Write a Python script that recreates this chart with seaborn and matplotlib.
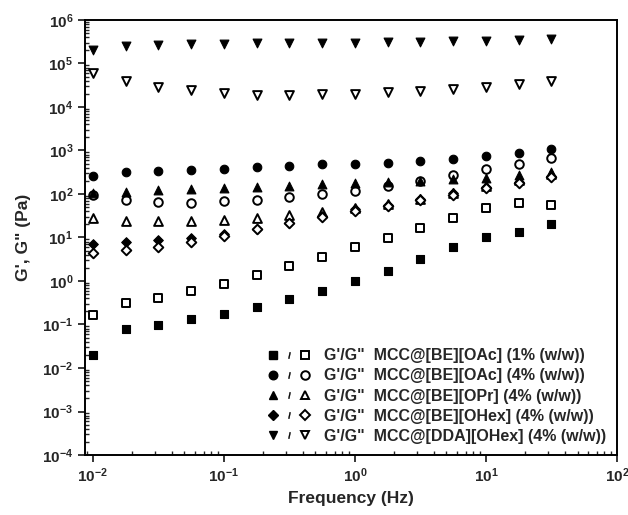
import numpy as np
import pandas as pd
import matplotlib
matplotlib.use("Agg")
import matplotlib.pyplot as plt
import seaborn as sns
from matplotlib.lines import Line2D
from matplotlib.legend_handler import HandlerTuple

# frequency sweep (Hz)
freq = [0.01, 0.0178, 0.0316, 0.0562, 0.1, 0.178, 0.316, 0.562,
        1.0, 1.78, 3.16, 5.62, 10.0, 17.8, 31.6]

# storage (G') / loss (G'') moduli, Pa
gp_be_oac_1 = [0.0196, 0.079, 0.098, 0.132, 0.177, 0.252, 0.386, 0.598,
               1.0, 1.73, 3.16, 5.96, 10.1, 13.6, 20.1]
gpp_be_oac_1 = [0.165, 0.317, 0.413, 0.589, 0.853, 1.35, 2.18, 3.62,
                5.96, 9.9, 16.5, 27.6, 47.6, 63.1, 55.8]
gp_be_oac_4 = [259, 321, 344, 362, 382, 411, 448, 482,
               490, 525, 583, 638, 748, 863, 1066]
gpp_be_oac_4 = [95, 72, 64, 63, 68, 73, 84, 100,
                117, 153, 199, 274, 370, 482, 662]
gp_be_opr_4 = [107, 113, 124, 130, 140, 145, 153, 167,
               182, 189, 202, 218, 233, 274, 321]
gpp_be_opr_4 = [27.6, 23.9, 23.9, 24.3, 25.2, 27.6, 32.4, 39.2,
                47.6, 58.9, 76.7, 105, 153, 210, 288]
gp_be_ohex_4 = [7.1, 7.8, 8.8, 9.9, 11.9, 15.9, 21.9, 31.2,
                44.5, 56.8, 76.7, 104, 147, 192, 259]
gpp_be_ohex_4 = [4.48, 5.08, 5.96, 8.0, 11.0, 15.4, 21.2, 29.1,
                 41.3, 53, 72.8, 94.8, 135, 176, 242]
gp_dda_ohex_4 = [2.04e5, 2.52e5, 2.66e5, 2.8e5, 2.8e5, 2.91e5, 2.96e5, 3.0e5,
                 3.0e5, 3.07e5, 3.12e5, 3.24e5, 3.34e5, 3.47e5, 3.6e5]
gpp_dda_ohex_4 = [5.9e4, 3.96e4, 2.93e4, 2.46e4, 2.13e4, 1.89e4, 1.89e4, 1.99e4,
                  1.99e4, 2.17e4, 2.37e4, 2.59e4, 2.93e4, 3.33e4, 3.96e4]

samples = ["MCC@[BE][OAc] (1% (w/w))", "MCC@[BE][OAc] (4% (w/w))",
           "MCC@[BE][OPr] (4% (w/w))", "MCC@[BE][OHex] (4% (w/w))",
           "MCC@[DDA][OHex] (4% (w/w))"]
markers = ["s", "o", "^", "D", "v"]
gp_all = [gp_be_oac_1, gp_be_oac_4, gp_be_opr_4, gp_be_ohex_4, gp_dda_ohex_4]
gpp_all = [gpp_be_oac_1, gpp_be_oac_4, gpp_be_opr_4, gpp_be_ohex_4, gpp_dda_ohex_4]

sns.set_style("ticks")
plt.rcParams["font.family"] = ["Liberation Sans", "DejaVu Sans"]
plt.rcParams["font.weight"] = "bold"
plt.rcParams["axes.unicode_minus"] = False
plt.rcParams["mathtext.fontset"] = "custom"
plt.rcParams["mathtext.rm"] = "Liberation Sans:bold"
plt.rcParams["mathtext.it"] = "Liberation Sans:bold"
plt.rcParams["mathtext.bf"] = "Liberation Sans:bold"
plt.rcParams["mathtext.default"] = "bf"

fig = plt.figure(figsize=(6.28, 5.15), dpi=100)
ax = fig.add_axes([0.1354, 0.1165, 0.8471, 0.8447])

sizes = {"s": 30, "o": 38, "^": 40, "D": 24, "v": 40}
handles = []
for name, m, gp, gpp in zip(samples, markers, gp_all, gpp_all):
    df = pd.DataFrame({"f": freq, "gp": gp, "gpp": gpp})
    sns.scatterplot(data=df, x="f", y="gp", marker=m, s=sizes[m], color="black",
                    edgecolor="black", linewidth=0.8, ax=ax, zorder=3)
    sns.scatterplot(data=df, x="f", y="gpp", marker=m, s=sizes[m], facecolor="white",
                    edgecolor="black", linewidth=1.4, ax=ax, zorder=3)
    ms = np.sqrt(sizes[m])
    h_fill = Line2D([], [], ls="none", marker=m, ms=ms, mfc="black", mec="black")
    h_slash = Line2D([], [], ls="none", marker="$/$", ms=4.5, mfc="black", mec="black", mew=0.3)
    h_open = Line2D([], [], ls="none", marker=m, ms=ms, mfc="white", mec="black", mew=1.4)
    handles.append(((h_fill, h_slash, h_open), 'G\'/G"  ' + name))

ax.set_xscale("log")
ax.set_yscale("log")
ax.set_xlim(10 ** -2.0588, 100)
ax.set_ylim(1e-4, 1e6)
ax.set_yticks([10.0 ** k for k in range(-4, 7)])
ax.set_xticks([10.0 ** k for k in range(-2, 3)])

ax.set_xlabel("Frequency (Hz)", fontsize=12.5, fontweight="bold", labelpad=4)
ax.set_ylabel("G', G\" (Pa)", fontsize=12.5, fontweight="bold", labelpad=8)

ax.tick_params(axis="both", which="major", direction="out", length=5, width=1.3,
               labelsize=11, top=False, right=False)
ax.tick_params(axis="both", which="minor", direction="in", length=3, width=1.0,
               top=False, right=False)
for sp in ax.spines.values():
    sp.set_linewidth(1.4)
    sp.set_color("black")

leg = ax.legend([h for h, _ in handles], [l for _, l in handles],
                handler_map={tuple: HandlerTuple(ndivide=None, pad=0.3)},
                loc="lower right", bbox_to_anchor=(1.0, 0.0), frameon=False,
                handlelength=2.7, handletextpad=0.8, labelspacing=0.32,
                prop={"weight": "bold", "size": 11.5}, borderaxespad=0.3)

fig.savefig("out.png", dpi=100)
